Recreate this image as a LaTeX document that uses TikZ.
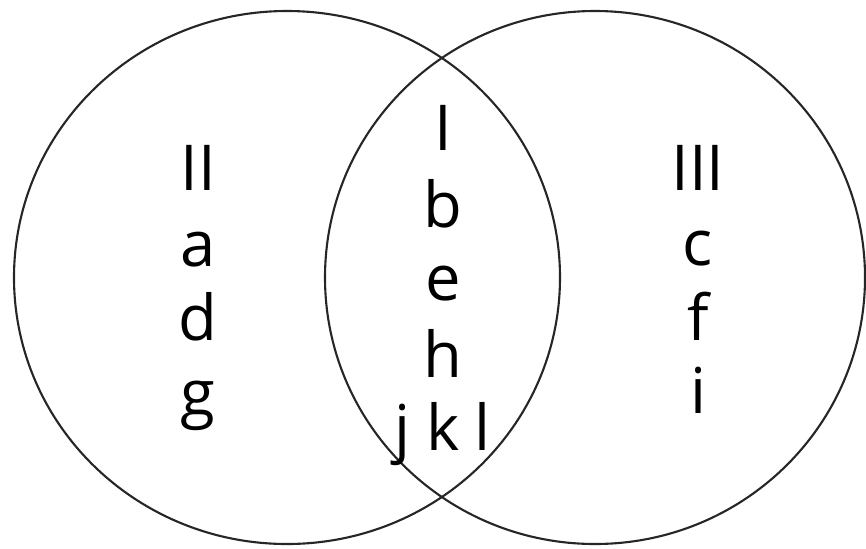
\documentclass[tikz,border=0pt]{standalone}
\usepackage{fontspec}
\setmainfont{Open Sans}
\usepackage{tikz}

\begin{document}
\begin{tikzpicture}[x=0.03cm, y=-0.03cm,
  set/.style={draw=black!85, line width=1.8pt},
  elem/.style={anchor=base, inner sep=0pt, font=\fontsize{54}{64}\selectfont}
]
\useasboundingbox (0,0) rectangle (866,548);

% the two sets
\draw[set] (287,277.5) ellipse [x radius=273, y radius=266.5];
\draw[set] (595,277.5) ellipse [x radius=270, y radius=266.5];

% left only
\node[elem] (two) at (198,190) {II};
\node[elem] (a)   at (198,266) {a};
\node[elem] (d)   at (198,340) {d};
\node[elem] (g)   at (198,415) {g};

% both
\node[elem] (one) at (443,150) {I};
\node[elem] (b)   at (443,227) {b};
\node[elem] (e)   at (443,300) {e};
\node[elem] (h)   at (443,377) {h};
\node[elem] (j)   at (402,450) {j};
\node[elem] (k)   at (443,450) {k};
\node[elem] (l)   at (482,450) {l};

% right only
\node[elem] (three) at (698,190) {III};
\node[elem] (c)     at (698,265) {c};
\node[elem] (f)     at (698,340) {f};
\node[elem] (i)     at (698,413) {i};

\end{tikzpicture}
\end{document}
